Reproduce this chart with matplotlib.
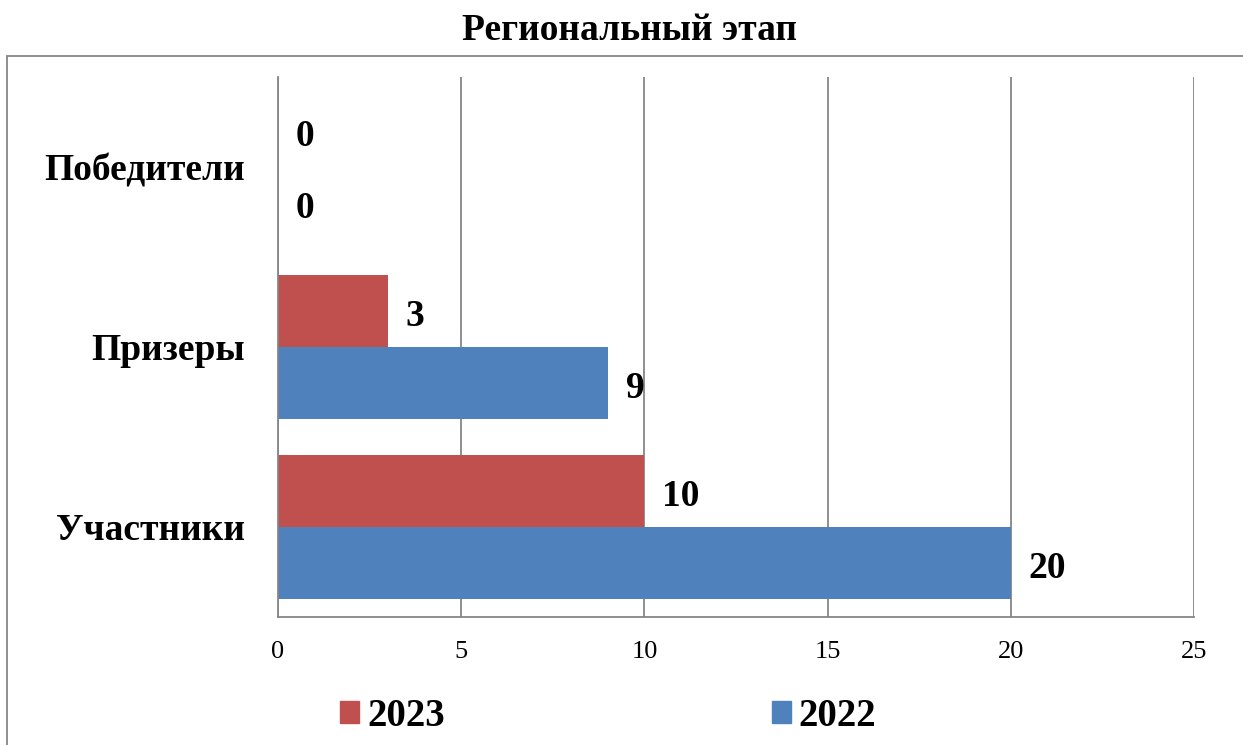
import matplotlib
matplotlib.use("Agg")
import matplotlib.pyplot as plt
from matplotlib.patches import Patch, Rectangle
import numpy as np

categories = ["Участники", "Призеры", "Победители"]
series_names = ["2023", "2022"]
values_2023 = [10, 3, 0]
values_2022 = [20, 9, 0]
x_ticks = [0, 5, 10, 15, 20, 25]

RED = "#C0504D"
BLUE = "#4F81BD"
GRAY = "#868686"

plt.rcParams["font.family"] = ["Liberation Serif", "DejaVu Serif"]

fig = plt.figure(figsize=(12.43, 7.45), dpi=100)
W, H = 1243, 745
ax = fig.add_axes([278 / W, 1 - 617 / H, (1194 - 278) / W, (617 - 77) / H])

# outer frame
fig.patches.append(Rectangle((7 / W, -0.1), 1.2, 1 - 56 / H + 0.1,
                             transform=fig.transFigure, fill=False,
                             edgecolor=GRAY, linewidth=1.3, clip_on=False))

y = np.arange(len(categories))
h = 0.4
b23 = ax.barh(y + h / 2, values_2023, height=h, color=RED, label=series_names[0])
b22 = ax.barh(y - h / 2, values_2022, height=h, color=BLUE, label=series_names[1])

for bars, vals in ((b23, values_2023), (b22, values_2022)):
    for rect, v in zip(bars, vals):
        ax.annotate(str(v), (rect.get_width(), rect.get_y() + rect.get_height() / 2),
                    xytext=(18, -5), textcoords="offset pixels",
                    ha="left", va="center", fontsize=27, fontweight="bold")

ax.set_xlim(0, 25)
ax.set_ylim(-0.5, 2.5)
ax.set_xticks(x_ticks)
ax.set_xticklabels([str(t) for t in x_ticks], fontsize=19)
ax.set_yticks(y)
ax.set_yticklabels(categories, fontsize=27, fontweight="bold")
ax.tick_params(axis="x", length=0, pad=17)
ax.tick_params(axis="y", length=0, pad=24)
ax.xaxis.grid(True, color=GRAY, linewidth=1.3)
ax.set_axisbelow(True)
for s in ("top", "right"):
    ax.spines[s].set_visible(False)
for s in ("left", "bottom"):
    ax.spines[s].set_color(GRAY)
    ax.spines[s].set_linewidth(1.3)

fig.text(629 / W, 1 - 31 / H, "Региональный этап", ha="center", va="center",
         fontsize=27, fontweight="bold")

handles = [Patch(color=RED, label="2023"), Patch(color=BLUE, label="2022")]
leg = fig.legend(handles=handles, loc="center left", bbox_to_anchor=(340 / W, 1 - 716 / H),
                 ncol=2, frameon=False, prop={"size": 28, "weight": "bold"},
                 handlelength=0.5, handleheight=0.5, handletextpad=0.2,
                 columnspacing=8.4, borderaxespad=0, borderpad=0)

fig.savefig("out.png", dpi=100)
